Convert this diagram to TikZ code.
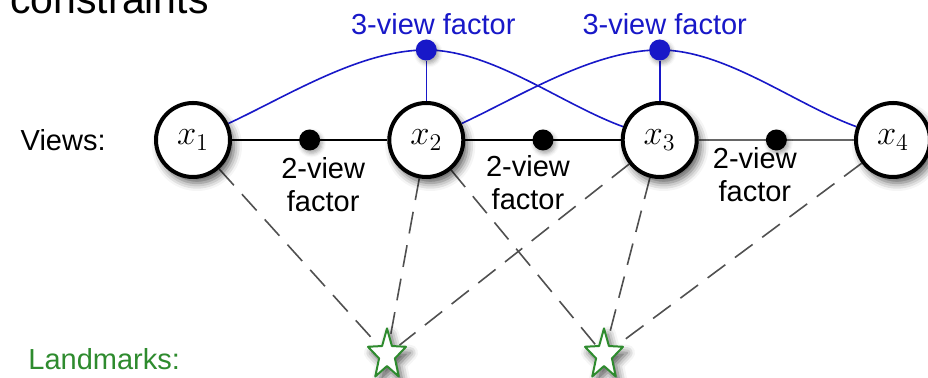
\documentclass[tikz,border=0pt]{standalone}
\usepackage{fontspec}
\setmainfont{Liberation Sans}
\usepackage{tikz}
\usetikzlibrary{positioning,calc,backgrounds,shapes.geometric,shadows.blur}
\definecolor{facblue}{HTML}{1818C8}
\definecolor{lmgreen}{HTML}{2E8B2E}
\definecolor{raygray}{HTML}{505050}
\tikzset{
    every picture/.style={line cap=round,line join=round},
    softshadow/.style={blur shadow={shadow xshift=2pt,shadow yshift=-3pt,
      shadow blur radius=4pt,shadow opacity=65}},
    dotshadow/.style={blur shadow={shadow xshift=1pt,shadow yshift=-1.5pt,
      shadow blur radius=2pt,shadow opacity=35}},
    viewnode/.style={draw=black,circle,fill=white,line width=2pt,
      minimum size=37pt,inner sep=0pt,font=\LARGE,softshadow},
    pairdot/.style={circle,fill=black,minimum size=10.5pt,inner sep=0pt,dotshadow},
    tripledot/.style={circle,fill=facblue,minimum size=10.5pt,inner sep=0pt,dotshadow},
    landmark/.style={star,star points=5,star point ratio=2.4,draw=lmgreen,
      fill=white,line width=1pt,minimum size=20pt,inner sep=0pt,softshadow},
    pairedge/.style={draw=black,line width=1pt},
    tripleedge/.style={draw=facblue,line width=0.8pt},
    rayedge/.style={draw=raygray,line width=0.8pt,dash pattern=on 11pt off 6pt},
    sidelabel/.style={font=\fontsize{14.5}{16.5}\selectfont,inner sep=0pt},
    factorlabel/.style={font=\fontsize{14.5}{16.5}\selectfont,inner sep=0pt,align=center}
}
\begin{document}
\begin{tikzpicture}[x=0.5pt,y=0.5pt]
  \useasboundingbox (0,140) rectangle (928,-238);
  \node[anchor=base west,inner sep=0pt,font=\fontsize{20.5}{24}\selectfont] (title) at (10,126) {constraints};
  \foreach \x [count=\i] in {193,426.3,659.7,893}
    \node[viewnode] (x\i) at (\x,0) {$x_{\i}$};
  \node[sidelabel,left=24pt of x1] (views) {Views:};
  \foreach \i/\j/\dx/\dy in {1/2/6.75pt/3pt,2/3/-7.5pt/2pt,3/4/-10.75pt/-1.75pt}{
    \node[pairdot] (p\i) at ($(x\i)!.5!(x\j)$) {};
    \node[factorlabel,below=\dy of p\i,xshift=\dx] (pl\i) {2-view\\factor};}
  \node[tripledot] (f1) at ($(x2)+(0,90)$) {};
  \node[tripledot] (f2) at ($(x3)+(0,90)$) {};
  \node[factorlabel,text=facblue,above=2pt of f1,xshift=3.5pt] (fl1) {3-view factor};
  \node[factorlabel,text=facblue,above=2pt of f2,xshift=2.5pt] (fl2) {3-view factor};
  \foreach \sx [count=\i] in {387,604}{
    \begin{scope}[shift={(\sx,-215)},yscale=1.33]
      \node[landmark,transform shape] (s\i) at (0,0) {};
    \end{scope}}
  \node[sidelabel,text=lmgreen,anchor=base west] (marks) at (28,-230) {Landmarks:};
  \begin{scope}[on background layer]
    \draw[pairedge] (x1) -- (x2) (x2) -- (x3);
    \draw[pairedge,draw=black!60,line width=1.3pt] (x3) -- (x4);
    \draw[tripleedge] (x1) to[out=25,in=180,looseness=.8] (f1.center)
      to[out=0,in=160,looseness=.8] (x3);
    \draw[tripleedge] (x2) to[out=25,in=180,looseness=.8] (f2.center)
      to[out=0,in=160,looseness=.8] (x4);
    \draw[tripleedge] (f1) -- (x2) (f2) -- (x3);
    \foreach \a/\b in {1/1,2/1,3/1,2/2,3/2,4/2}
      \draw[rayedge] (x\a) -- (s\b);
  \end{scope}
\end{tikzpicture}
\end{document}
